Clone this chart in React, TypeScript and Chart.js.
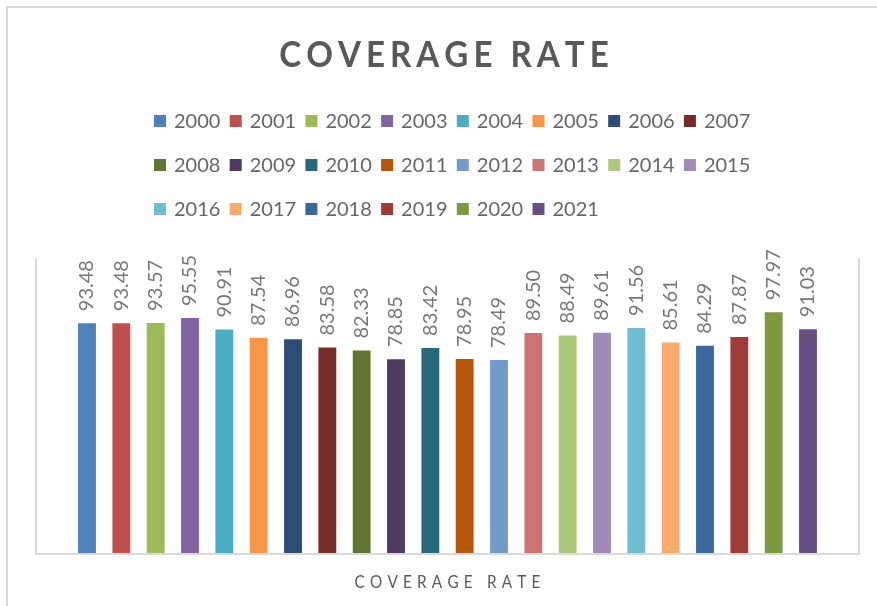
import React, { useEffect, useRef } from 'react';
import { Chart, registerables } from 'chart.js';

Chart.register(...registerables);

const chartTitle = 'COVERAGE RATE';
const categories = ['COVERAGE RATE'];
const years = [
  '2000', '2001', '2002', '2003', '2004', '2005', '2006', '2007',
  '2008', '2009', '2010', '2011', '2012', '2013', '2014', '2015',
  '2016', '2017', '2018', '2019', '2020', '2021',
];
const values = [
  93.48, 93.48, 93.57, 95.55, 90.91, 87.54, 86.96, 83.58,
  82.33, 78.85, 83.42, 78.95, 78.49, 89.5, 88.49, 89.61,
  91.56, 85.61, 84.29, 87.87, 97.97, 91.03,
];
const colors = [
  '#4F81BD', '#C0504D', '#9BBB59', '#8064A2', '#4BACC6', '#F79646', '#2C4D75', '#772C2A',
  '#5F7530', '#4D3B62', '#276A7C', '#B65708', '#729ACA', '#CD7371', '#AFC97A', '#A08AB9',
  '#6FBDD1', '#F9AB6B', '#3A679C', '#9F3B38', '#7E9A41', '#664F82',
];
const yMin = 0;
const yMax = 120;

const FONT = 'Lato, "Open Sans", "DejaVu Sans", sans-serif';

function spacedText(
  ctx: CanvasRenderingContext2D,
  text: string,
  cx: number,
  y: number,
  spacing: number,
  sx = 1,
) {
  const chars = Array.from(text);
  const widths = chars.map((ch) => ctx.measureText(ch).width * sx);
  const total = widths.reduce((a, b) => a + b, 0) + spacing * (chars.length - 1);
  let x = cx - total / 2;
  ctx.textAlign = 'left';
  chars.forEach((ch, i) => {
    ctx.save();
    ctx.translate(x, y);
    ctx.scale(sx, 1);
    ctx.fillText(ch, 0, 0);
    ctx.restore();
    x += widths[i] + spacing;
  });
}

const decorPlugin = {
  id: 'excelDecor',
  beforeDraw(chart: any) {
    const { ctx, chartArea } = chart;
    ctx.save();
    ctx.fillStyle = '#ffffff';
    ctx.fillRect(0, 0, chart.width, chart.height);
    // outer chart border
    ctx.strokeStyle = '#d9d9d9';
    ctx.lineWidth = 2;
    ctx.strokeRect(7, 7, chart.width + 50, chart.height + 50);
    // plot area border (left, bottom, right)
    ctx.beginPath();
    ctx.moveTo(chartArea.left - 1, chartArea.top);
    ctx.lineTo(chartArea.left - 1, chartArea.bottom + 1);
    ctx.lineTo(chartArea.right + 1, chartArea.bottom + 1);
    ctx.lineTo(chartArea.right + 1, chartArea.top);
    ctx.stroke();
    ctx.restore();
  },
  afterDraw(chart: any) {
    const { ctx } = chart;
    ctx.save();
    // title
    ctx.fillStyle = '#595959';
    ctx.font = `bold 36px ${FONT}`;
    ctx.textBaseline = 'alphabetic';
    spacedText(ctx, chartTitle, 444, 67, 5, 0.92);

    // legend grid
    const datasets = chart.data.datasets;
    const cols = 8;
    const startX = 154;
    const pitch = 75.7;
    const rowY = [121, 165, 209];
    ctx.font = `20px ${FONT}`;
    ctx.textBaseline = 'middle';
    ctx.textAlign = 'left';
    datasets.forEach((ds: any, i: number) => {
      const col = i % cols;
      const row = Math.floor(i / cols);
      const x = startX + col * pitch;
      const y = rowY[row];
      ctx.fillStyle = ds.backgroundColor;
      ctx.fillRect(x, y - 6, 12, 12);
      ctx.fillStyle = '#666666';
      ctx.fillText(ds.label, x + 20, y + 1);
    });

    // category axis label
    const xScale = chart.scales.x;
    ctx.fillStyle = '#595959';
    ctx.font = `17px ${FONT}`;
    ctx.textBaseline = 'alphabetic';
    spacedText(ctx, String(chart.data.labels[0]), xScale.getPixelForValue(0), 588, 5.2, 0.9);
    ctx.restore();
  },
  afterDatasetsDraw(chart: any) {
    const { ctx } = chart;
    ctx.save();
    ctx.font = `20px ${FONT}`;
    ctx.fillStyle = '#777777';
    ctx.textBaseline = 'middle';
    ctx.textAlign = 'left';
    chart.data.datasets.forEach((ds: any, i: number) => {
      const meta = chart.getDatasetMeta(i);
      const bar: any = meta.data[0];
      if (!bar) return;
      ctx.save();
      ctx.translate(bar.x, bar.y - 12);
      ctx.rotate(-Math.PI / 2);
      ctx.fillText(Number(ds.data[0]).toFixed(2), 0, 0);
      ctx.restore();
    });
    ctx.restore();
  },
};

export default function App() {
  const ref = useRef<HTMLCanvasElement | null>(null);
  useEffect(() => {
    if (!ref.current) return;
    const chart = new Chart(ref.current, {
      type: 'bar',
      data: {
        labels: categories,
        datasets: years.map((y, i) => ({
          label: y,
          data: [values[i]],
          backgroundColor: colors[i],
          borderWidth: 0,
          categoryPercentage: 0.92,
          barPercentage: 0.52,
        })),
      },
      options: {
        animation: false,
        responsive: false,
        devicePixelRatio: 1,
        layout: { padding: { left: 37, right: 19, top: 258, bottom: 53 } },
        plugins: {
          legend: { display: false },
          title: { display: false },
          tooltip: { enabled: false },
        },
        scales: {
          x: { display: false },
          y: { display: false, min: yMin, max: yMax },
        },
      },
      plugins: [decorPlugin],
    } as any);
    return () => chart.destroy();
  }, []);
  return (
    <div style={{ position: 'fixed', left: 0, top: 0, width: 877, height: 606 }}>
      <canvas ref={ref} width={877} height={606} style={{ display: 'block' }} />
    </div>
  );
}
